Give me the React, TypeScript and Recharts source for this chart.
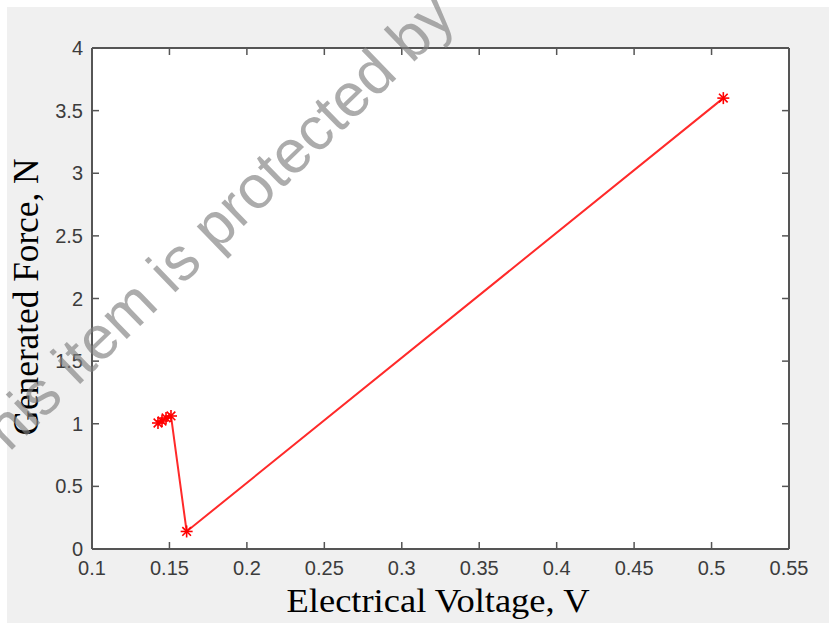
import React from 'react';
import { LineChart, Line, XAxis, YAxis, CartesianGrid, ReferenceLine } from 'recharts';

const voltage = [0.1426, 0.1452, 0.1478, 0.151, 0.1611, 0.5076];
const force = [1.006, 1.022, 1.046, 1.062, 0.14, 3.6];
const xTicks = [0.1, 0.15, 0.2, 0.25, 0.3, 0.35, 0.4, 0.45, 0.5, 0.55];
const yTicks = [0, 0.5, 1, 1.5, 2, 2.5, 3, 3.5, 4];
const xTitle = 'Electrical Voltage, V';
const yTitle = 'Generated Force, N';
const watermark = 'This item is protected by';

const data = voltage.map((v, i) => ({ v, f: force[i] }));

const W = 829;
const H = 623;
const M = { top: 47, right: 39, bottom: 34, left: 32 };
const X_MIN = xTicks[0];
const X_MAX = xTicks[xTicks.length - 1];
const Y_MIN = yTicks[0];
const Y_MAX = yTicks[yTicks.length - 1];
// inward tick length on top / right edges, expressed in data units (~7px)
const TOP_TICK = (Y_MAX - Y_MIN) * 0.014;
const RIGHT_TICK = (X_MAX - X_MIN) * 0.01;
const axisStroke = '#555';
const tickStyle = { fill: '#3c3c3c', fontSize: 20, fontFamily: 'Liberation Sans, Arial, sans-serif' };

const Asterisk = (props: any) => {
  const { cx, cy } = props;
  if (cx == null || cy == null) return null;
  const r = 6;
  const d = r * 0.72;
  const st = { stroke: '#ff0000', strokeWidth: 1.6 };
  return (
    <g>
      <line x1={cx - r} y1={cy} x2={cx + r} y2={cy} {...st} />
      <line x1={cx} y1={cy - r} x2={cx} y2={cy + r} {...st} />
      <line x1={cx - d} y1={cy - d} x2={cx + d} y2={cy + d} {...st} />
      <line x1={cx - d} y1={cy + d} x2={cx + d} y2={cy - d} {...st} />
    </g>
  );
};

const fmt = (v: number) => String(v);

export default function App() {
  return (
    <div style={{ position: 'absolute', left: 0, top: 0, width: W, height: H, background: '#fff' }}>
      <div style={{ position: 'absolute', left: 7, top: 7, width: W - 7, height: H - 7, background: '#f0f0f0' }} />
      <div style={{ position: 'absolute', left: 0, top: 0 }}>
        <LineChart width={W} height={H} data={data} margin={M}>
          <CartesianGrid fill="#ffffff" stroke="none" horizontal={false} vertical={false} />
          <XAxis
            dataKey="v"
            type="number"
            domain={[X_MIN, X_MAX]}
            ticks={xTicks}
            tickFormatter={fmt}
            allowDataOverflow
            height={40}
            tickSize={-7}
            tickMargin={19}
            tick={tickStyle}
            axisLine={{ stroke: axisStroke, strokeWidth: 2 }}
            tickLine={{ stroke: axisStroke, strokeWidth: 1.5 }}
          />
          <XAxis
            xAxisId="top"
            orientation="top"
            type="number"
            domain={[X_MIN, X_MAX]}
            ticks={xTicks}
            allowDataOverflow
            height={1}
            tick={false}
            tickLine={false}
            axisLine={{ stroke: axisStroke, strokeWidth: 2 }}
          />
          <YAxis
            type="number"
            domain={[Y_MIN, Y_MAX]}
            ticks={yTicks}
            tickFormatter={fmt}
            allowDataOverflow
            width={60}
            tickSize={-7}
            tickMargin={16}
            tick={tickStyle}
            axisLine={{ stroke: axisStroke, strokeWidth: 2 }}
            tickLine={{ stroke: axisStroke, strokeWidth: 1.5 }}
          />
          <YAxis
            yAxisId="right"
            orientation="right"
            type="number"
            domain={[Y_MIN, Y_MAX]}
            ticks={yTicks}
            allowDataOverflow
            width={1}
            tick={false}
            tickLine={false}
            axisLine={{ stroke: axisStroke, strokeWidth: 2 }}
          />
          {xTicks.slice(1, -1).map((t) => (
            <ReferenceLine
              key={'tx' + t}
              segment={[{ x: t, y: Y_MAX }, { x: t, y: Y_MAX - TOP_TICK }]}
              stroke={axisStroke}
              strokeWidth={1.5}
              ifOverflow="visible"
            />
          ))}
          {yTicks.slice(1, -1).map((t) => (
            <ReferenceLine
              key={'ty' + t}
              segment={[{ x: X_MAX, y: t }, { x: X_MAX - RIGHT_TICK, y: t }]}
              stroke={axisStroke}
              strokeWidth={1.5}
              ifOverflow="visible"
            />
          ))}
          <Line
            dataKey="f"
            type="linear"
            stroke="#ff2a2a"
            strokeWidth={2}
            dot={<Asterisk />}
            activeDot={false}
            isAnimationActive={false}
          />
        </LineChart>
      </div>
      <svg width={W} height={H} style={{ position: 'absolute', left: 0, top: 0, pointerEvents: 'none' }}>
        <text
          x={438}
          y={612}
          textAnchor="middle"
          fontFamily="Liberation Serif, Times New Roman, serif"
          fontSize={34}
          fill="#000"
          textLength={303}
          lengthAdjust="spacingAndGlyphs"
        >
          {xTitle}
        </text>
        <text
          x={0}
          y={0}
          transform="translate(38,297) rotate(-90)"
          textAnchor="middle"
          fontFamily="Liberation Serif, Times New Roman, serif"
          fontSize={35}
          fill="#000"
          textLength={277}
          lengthAdjust="spacingAndGlyphs"
        >
          {yTitle}
        </text>
        <text
          x={0}
          y={0}
          transform="translate(220,249) rotate(-44)"
          textAnchor="middle"
          fontFamily="Liberation Sans, Arial, sans-serif"
          fontSize={61}
          fill="#808080"
          fillOpacity={0.65}
          textLength={661}
          lengthAdjust="spacingAndGlyphs"
        >
          {watermark}
        </text>
      </svg>
    </div>
  );
}
